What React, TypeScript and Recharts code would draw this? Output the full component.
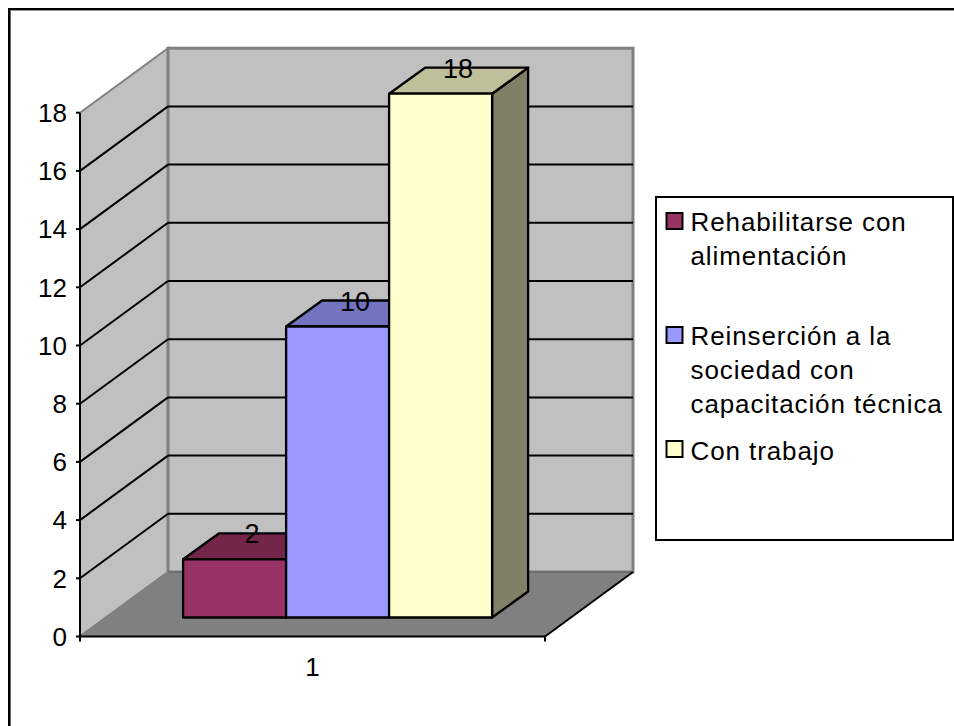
import React from "react";
import { BarChart, Bar, XAxis, YAxis, Legend, LabelList, usePlotArea } from "recharts";

const FONT = "'Liberation Sans', Arial, sans-serif";
const categories = ["1"];
const seriesNames = ["Rehabilitarse con alimentación", "Reinserción a la sociedad con capacitación técnica", "Con trabajo"];
const seriesKeys = ["a", "b", "c"];
const seriesValues = [2, 10, 18];
const seriesFront = ["#993366", "#9999FF", "#FFFFCC"];
const seriesTop = ["#732649", "#7373BF", "#BFBF99"];
const seriesSide = ["#4D1A33", "#4D4D80", "#808066"];
const legendLines = [["Rehabilitarse con", "alimentación"], ["Reinserción a la", "sociedad con", "capacitación técnica"], ["Con trabajo"]];
const legendBaselines = [[35, 69], [149, 183, 217], [264]];
const legendSwatchY = [17, 131, 245];
const yTicks = [0, 2, 4, 6, 8, 10, 12, 14, 16, 18];
const yMax = 18;

const data = categories.map((c) => {
  const row: Record<string, string | number> = { name: c };
  seriesKeys.forEach((k, i) => { row[k] = seriesValues[i]; });
  return row;
});

// Oblique projection
const WALL = { dx: 88, dy: -64.5 };
const BAR_SHIFT = { dx: 25.7, dy: -19 };
const BAR_DEPTH = { dx: 36, dy: -26 };

function Walls() {
  const p = usePlotArea();
  if (!p) return null;
  const left = p.x, right = p.x + p.width, bottom = p.y + p.height, top = p.y;
  const yOf = (v: number) => bottom - (v / yMax) * p.height;
  const bl = left + WALL.dx, br = right + WALL.dx;
  return (
    <g>
      <polygon points={`${left},${top} ${bl},${top + WALL.dy} ${bl},${bottom + WALL.dy} ${left},${bottom}`} fill="#C0C0C0" stroke="#808080" strokeWidth={2} />
      <rect x={bl} y={top + WALL.dy} width={br - bl} height={p.height} fill="#C0C0C0" stroke="#808080" strokeWidth={3} />
      <polygon points={`${left},${bottom} ${bl},${bottom + WALL.dy} ${br},${bottom + WALL.dy} ${right},${bottom}`} fill="#808080" stroke="none" />
      <line x1={bl} y1={bottom + WALL.dy} x2={br} y2={bottom + WALL.dy} stroke="#6E6E6E" strokeWidth={2} />
      <line x1={left} y1={bottom} x2={bl} y2={bottom + WALL.dy} stroke="#808080" strokeWidth={2} />
      <line x1={right} y1={bottom} x2={br} y2={bottom + WALL.dy} stroke="#000" strokeWidth={2} />
      {yTicks.filter((v) => v > 0 && v < yMax).map((v) => (
        <g key={v}>
          <line x1={left} y1={yOf(v)} x2={bl} y2={yOf(v) + WALL.dy} stroke="#000" strokeWidth={2} />
          <line x1={bl} y1={yOf(v) + WALL.dy} x2={br} y2={yOf(v) + WALL.dy} stroke="#000" strokeWidth={2} />
        </g>
      ))}
      <line x1={left} y1={bottom} x2={left} y2={bottom + 5} stroke="#000" strokeWidth={2} />
      <line x1={right} y1={bottom} x2={right} y2={bottom + 5} stroke="#000" strokeWidth={2} />
    </g>
  );
}

function bar3D(i: number) {
  return (props: any) => {
    const { x, y, width, height } = props;
    const x0 = x + BAR_SHIFT.dx, y0 = y + BAR_SHIFT.dy;
    const x1 = x0 + width, y1 = y0 + height;
    const d = BAR_DEPTH;
    return (
      <g stroke="#000" strokeWidth={2.3} strokeLinejoin="round">
        <polygon points={`${x1},${y0} ${x1 + d.dx},${y0 + d.dy} ${x1 + d.dx},${y1 + d.dy} ${x1},${y1}`} fill={seriesSide[i]} />
        <polygon points={`${x0},${y0} ${x0 + d.dx},${y0 + d.dy} ${x1 + d.dx},${y0 + d.dy} ${x1},${y0}`} fill={seriesTop[i]} />
        <rect x={x0} y={y0} width={width} height={height} fill={seriesFront[i]} />
      </g>
    );
  };
}

function barLabel(props: any) {
  const { x, y, width, value } = props;
  return (
    <text x={x + BAR_SHIFT.dx + width / 2 + 17.5} y={y + BAR_SHIFT.dy - 16} textAnchor="middle" fontFamily={FONT} fontSize={27} fill="#000">
      {value}
    </text>
  );
}

function LegendBox() {
  return (
    <svg width={299} height={345} style={{ display: "block" }}>
      <rect x={1} y={1} width={297} height={343} fill="#fff" stroke="#000" strokeWidth={2} />
      {seriesNames.map((n, i) => (
        <g key={n}>
          <rect x={11.5} y={legendSwatchY[i]} width={16} height={16} fill={seriesFront[i]} stroke="#000" strokeWidth={2} />
          {legendLines[i].map((line, j) => (
            <text key={line} x={35.5} y={legendBaselines[i][j]} fontFamily={FONT} fontSize={26} letterSpacing={0.9} fill="#000">
              {line}
            </text>
          ))}
        </g>
      ))}
    </svg>
  );
}

export default function App() {
  return (
    <div style={{ position: "absolute", left: 0, top: 0, width: 954, height: 726, background: "#fff", overflow: "hidden" }}>
      <svg width={954} height={726} style={{ position: "absolute", left: 0, top: 0 }}>
        <line x1={9.3} y1={8} x2={9.3} y2={726} stroke="#000" strokeWidth={2.6} />
        <line x1={8} y1={9} x2={954} y2={9} stroke="#000" strokeWidth={2} />
        <line x1={10.6} y1={10.5} x2={954} y2={10.5} stroke="#999" strokeWidth={1} />
      </svg>
      <div style={{ position: "absolute", left: 0, top: 0 }}>
        <BarChart
          width={954}
          height={726}
          data={data}
          margin={{ left: 0, top: 112.7, right: 110, bottom: 0 }}
          barCategoryGap={77.4}
          barGap={0}
        >
          <Walls />
          <XAxis
            dataKey="name"
            height={89.5}
            tickLine={false}
            axisLine={{ stroke: "#000", strokeWidth: 2 }}
            tick={{ fill: "#000", fontSize: 26, fontFamily: FONT }}
            tickMargin={15}
          />
          <YAxis
            width={80}
            domain={[0, yMax]}
            ticks={yTicks}
            interval={0}
            tickSize={4}
            tickMargin={9}
            axisLine={{ stroke: "#000", strokeWidth: 2 }}
            tickLine={{ stroke: "#000", strokeWidth: 2 }}
            tick={{ fill: "#000", fontSize: 26, fontFamily: FONT }}
          />
          {seriesKeys.map((k, i) => (
            <Bar key={k} dataKey={k} name={seriesNames[i]} fill={seriesFront[i]} isAnimationActive={false} shape={bar3D(i)}>
              <LabelList dataKey={k} content={barLabel} />
            </Bar>
          ))}
          <Legend
            layout="vertical"
            align="right"
            verticalAlign="top"
            width={299}
            wrapperStyle={{ left: 655, top: 196, right: "auto", width: 299 }}
            content={() => <LegendBox />}
          />
        </BarChart>
      </div>
    </div>
  );
}
